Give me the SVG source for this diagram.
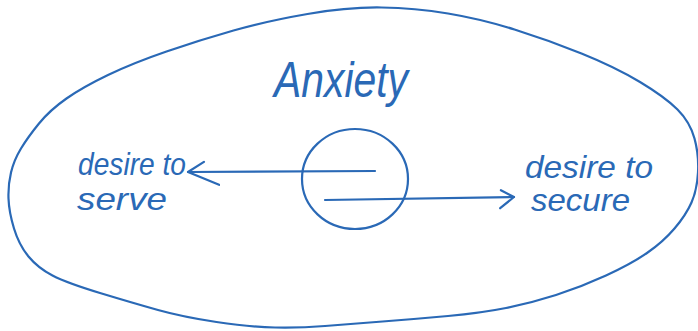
<svg xmlns="http://www.w3.org/2000/svg" width="698" height="331" viewBox="0 0 698 331">
<style>
.ink{fill:none;stroke:#2a69b6;stroke-width:2.2;stroke-linecap:round;stroke-linejoin:round}
.lbl{font-family:"Liberation Sans","DejaVu Sans",sans-serif;font-style:italic;fill:#2a69b6}
</style>
<defs>
<marker id="headL" viewBox="0 0 34 28" refX="32" refY="14" markerWidth="34" markerHeight="28" markerUnits="userSpaceOnUse" orient="auto">
<path d="M16,24 L32,14 L1,1" fill="none" stroke="#2a69b6" stroke-width="2.2" stroke-linecap="round" stroke-linejoin="round"/>
</marker>
<marker id="headR" viewBox="0 0 18 24" refX="16" refY="9" markerWidth="18" markerHeight="24" markerUnits="userSpaceOnUse" orient="auto">
<path d="M3,2 L16,9 L2,20" fill="none" stroke="#2a69b6" stroke-width="2.2" stroke-linecap="round" stroke-linejoin="round"/>
</marker>
</defs>
<rect width="698" height="331" fill="#ffffff"/>
<g id="boundary">
<path class="ink" d="M307.5,14 Q348,7 381.5,7.5 Q415,8 448,13.5 Q481,19 514.5,29.5 Q548,40 581.5,53.5 Q615,67 640,82 Q665,97 677.5,109.5 Q690,122 694.5,138.5 Q699,155 698,172.5 Q697,190 691.5,202.5 Q686,215 674.5,228.5 Q663,242 647,253 Q631,264 606,275.5 Q581,287 556,295 Q531,303 506,308 Q481,313 448,316 Q415,319 382.5,321.5 Q350,324 325,326 Q300,328 275,327.5 Q250,327 216.5,322 Q183,317 158,310 Q133,303 100,293 Q67,283 52.5,275.5 Q38,268 28.5,256.5 Q19,245 14,228.5 Q9,212 8.5,198.5 Q8,185 11,172.5 Q14,160 21,148.5 Q28,137 39,123.5 Q50,110 66.5,98.5 Q83,87 108,75 Q133,63 166.5,51.5 Q200,40 233.5,30.5 Q267,21 307.5,14 Z"/>
</g>
<g id="anxiety">
<text class="lbl" x="274" y="97" font-size="50" textLength="134" lengthAdjust="spacingAndGlyphs">Anxiety</text>
</g>
<g id="core">
<ellipse class="ink" cx="355" cy="179" rx="53" ry="50"/>
</g>
<g id="serve">
<text class="lbl" x="78" y="175" font-size="32" textLength="108" lengthAdjust="spacingAndGlyphs">desire to</text>
<text class="lbl" x="77" y="210" font-size="32" textLength="90" lengthAdjust="spacingAndGlyphs">serve</text>
</g>
<g id="secure">
<text class="lbl" x="525" y="178" font-size="32" textLength="128" lengthAdjust="spacingAndGlyphs">desire to</text>
<text class="lbl" x="531" y="211" font-size="32" textLength="99" lengthAdjust="spacingAndGlyphs">secure</text>
</g>
<g id="connectors">
<path class="ink" d="M375,171 L188,172" marker-end="url(#headL)"/>
<path class="ink" d="M325,200 L514,197" marker-end="url(#headR)"/>
</g>
</svg>
